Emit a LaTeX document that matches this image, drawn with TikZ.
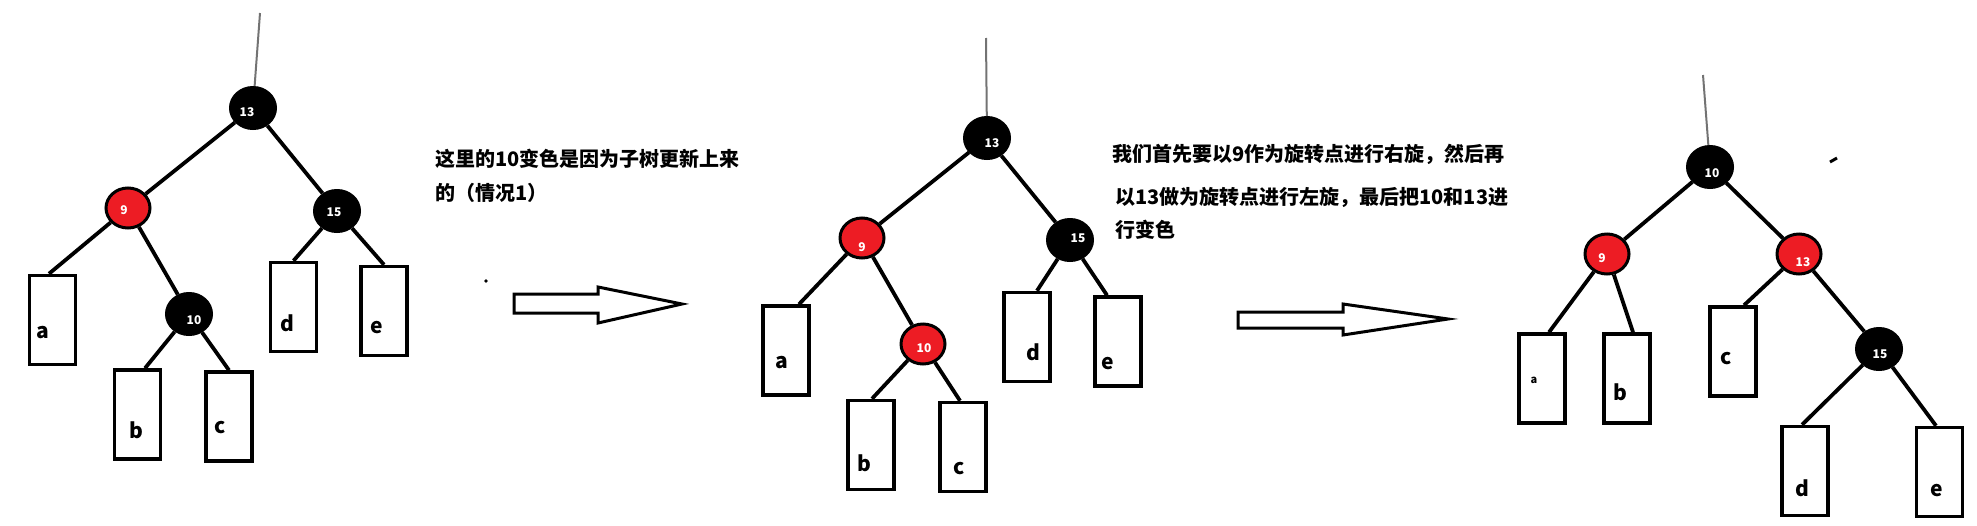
\documentclass[tikz,border=0pt]{standalone}
\usepackage{fontspec}
\newfontfamily\cjk{Noto Sans CJK SC}
\usetikzlibrary{shapes.geometric}
\definecolor{pred}{HTML}{ED1C24}
\begin{document}
\begin{tikzpicture}[x=1pt,y=-1pt,
 edge/.style={line width=3.8pt},
 stem/.style={line width=2pt, draw=black!55},
 bnode/.style={ellipse, fill=black, draw=black, line width=1pt, minimum width=47pt, minimum height=43pt, inner sep=0pt},
 rnode/.style={ellipse, fill=pred, draw=black, line width=3pt, minimum width=44pt, minimum height=40pt, inner sep=0pt},
 leaf/.style={rectangle, draw=black, line width=3.5pt, minimum width=46pt, minimum height=89pt, inner sep=0pt},
 nlab/.style={text=white, font=\cjk\bfseries\fontsize{12}{12}\selectfont, inner sep=0pt},
 llab/.style={font=\cjk\bfseries\fontsize{21}{21}\selectfont, inner sep=0pt},
 note/.style={font=\cjk\bfseries\fontsize{20}{20}\selectfont, inner sep=0pt, anchor=base west},
 bigarrow/.style={line width=3pt, draw=black, fill=white, line join=miter}]
\useasboundingbox (0,0) rectangle (1977,525);

% ---------- Tree 1 ----------
\coordinate (t1top) at (260,13);
\node[bnode] (t1n13) at (253,108) {};
\node[rnode] (t1n9) at (128,208) {};
\node[bnode] (t1n15) at (337,211) {};
\node[bnode] (t1n10) at (189,314) {};
\node[leaf] (t1a) at (52.5,320) {};
\node[leaf] (t1b) at (137.5,414.5) {};
\node[leaf] (t1c) at (229,416.5) {};
\node[leaf] (t1d) at (293.5,307) {};
\node[leaf] (t1e) at (384,311) {};
\node[nlab] (t1l13) at (247,112) {13};
\node[nlab] (t1l9) at (124,210) {9};
\node[nlab] (t1l15) at (334,212) {15};
\node[nlab] (t1l10) at (194,320) {10};
\node[llab] (t1la) at (43,333) {a};
\node[llab] (t1lb) at (136,430) {b};
\node[llab] (t1lc) at (220,428) {c};
\node[llab] (t1ld) at (287,323) {d};
\node[llab] (t1le) at (377,328) {e};
\draw[stem] (t1top) -- (t1n13);
\draw[edge] (t1n13) -- (t1n9);
\draw[edge] (t1n13) -- (t1n15);
\draw[edge] (t1n9) -- ([xshift=-3.5pt]t1a.north);
\draw[edge] (t1n9) -- (t1n10);
\draw[edge] (t1n10) -- ([xshift=7.5pt]t1b.north);
\draw[edge] (t1n10) -- (t1c.north);
\draw[edge] (t1n15) -- (t1d.north);
\draw[edge] (t1n15) -- (t1e.north);

% ---------- Note 1 and arrow 1 ----------
\node[note] (note1a) at (435,166) {这里的10变色是因为子树更新上来};
\node[note] (note1b) at (435,200) {的（情况1）};
\fill (486,281) circle (1.8pt);
\draw[bigarrow] (514,294) -- (598,294) -- (598,287) -- (682,304) -- (598,323) -- (598,313) -- (514,313) -- cycle;

% ---------- Tree 2 ----------
\coordinate (t2top) at (986,38);
\node[bnode] (t2n13) at (987,138) {};
\node[rnode] (t2n9) at (862,238) {};
\node[bnode] (t2n15) at (1070,240) {};
\node[rnode] (t2n10) at (923,344) {};
\node[leaf] (t2a) at (786,350.5) {};
\node[leaf] (t2b) at (871,445) {};
\node[leaf] (t2c) at (963,447) {};
\node[leaf] (t2d) at (1027,337) {};
\node[leaf] (t2e) at (1118,341.5) {};
\node[nlab] (t2l13) at (992,143) {13};
\node[nlab] (t2l9) at (862,247) {9};
\node[nlab] (t2l15) at (1078,238) {15};
\node[nlab] (t2l10) at (924,348) {10};
\node[llab] (t2la) at (782,363) {a};
\node[llab] (t2lb) at (864,463) {b};
\node[llab] (t2lc) at (959,469) {c};
\node[llab] (t2ld) at (1033,352) {d};
\node[llab] (t2le) at (1108,364) {e};
\draw[stem] (t2top) -- (t2n13);
\draw[edge] (t2n13) -- (t2n9);
\draw[edge] (t2n13) -- (t2n15);
\draw[edge] (t2n9) -- ([xshift=13pt]t2a.north);
\draw[edge] (t2n9) -- (t2n10);
\draw[edge] (t2n10) -- ([xshift=1pt]t2b.north);
\draw[edge] (t2n10) -- ([xshift=-3pt]t2c.north);
\draw[edge] (t2n15) -- ([xshift=10pt]t2d.north);
\draw[edge] (t2n15) -- ([xshift=-11pt]t2e.north);

% ---------- Note 2 and arrow 2 ----------
\node[note] (note2a) at (1112,161) {我们首先要以9作为旋转点进行右旋，然后再};
\node[note] (note2b) at (1115,204) {以13做为旋转点进行左旋，最后把10和13进};
\node[note] (note2c) at (1115,237) {行变色};
\draw[bigarrow] (1238,312) -- (1343,312) -- (1343,304) -- (1448,319) -- (1343,335) -- (1343,328) -- (1238,328) -- cycle;

% ---------- Tree 3 ----------
\coordinate (t3top) at (1703,75);
\node[bnode] (t3n10) at (1710,167) {};
\node[rnode] (t3n9) at (1607,254) {};
\node[rnode] (t3n13) at (1799,254) {};
\node[bnode] (t3n15) at (1879,349) {};
\node[leaf] (t3a) at (1542,378.5) {};
\node[leaf] (t3b) at (1627,378.5) {};
\node[leaf] (t3c) at (1733,351.5) {};
\node[leaf] (t3d) at (1805,471) {};
\node[leaf] (t3e) at (1939.5,472) {};
\node[nlab] (t3l10) at (1712,173) {10};
\node[nlab] (t3l9) at (1602,258) {9};
\node[nlab] (t3l13) at (1803,262) {13};
\node[nlab] (t3l15) at (1880,354) {15};
\node[font=\cjk\bfseries\fontsize{11}{11}\selectfont, inner sep=0pt] (t3la) at (1534,380) {a};
\node[llab] (t3lb) at (1620,392) {b};
\node[llab] (t3lc) at (1726,359) {c};
\node[llab] (t3ld) at (1802,488) {d};
\node[llab] (t3le) at (1937,491) {e};
\draw[stem] (t3top) -- (t3n10);
\draw[edge] (t3n10) -- (t3n9);
\draw[edge] (t3n10) -- (t3n13);
\draw[edge] (t3n9) -- ([xshift=7pt]t3a.north);
\draw[edge] (t3n9) -- ([xshift=6pt]t3b.north);
\draw[edge] (t3n13) -- ([xshift=11pt]t3c.north);
\draw[edge] (t3n13) -- (t3n15);
\draw[edge] (t3n15) -- ([xshift=-3pt]t3d.north);
\draw[edge] (t3n15) -- ([xshift=-3.5pt]t3e.north);
\draw[line width=3pt] (1830,162) -- (1837,158);
\end{tikzpicture}
\end{document}
